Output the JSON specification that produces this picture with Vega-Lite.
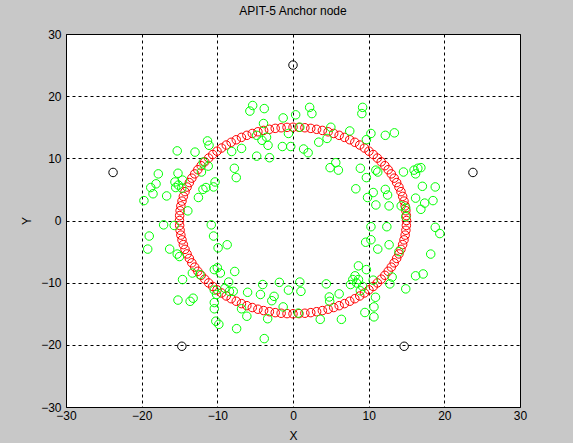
{
  "$schema": "https://vega.github.io/schema/vega-lite/v6.json",
  "width": 454,
  "height": 373,
  "autosize": "none",
  "padding": {"left": 66, "top": 34, "right": 53, "bottom": 36},
  "background": "#c8c8c8",
  "title": {"text": "APIT-5 Anchor node", "font": "Liberation Sans", "fontSize": 12, "fontWeight": "normal", "color": "black", "offset": 10, "frame": "group"},
  "datasets": {
    "nodes": [
      {"x":15,"y":0},{"x":14.98,"y":0.79},{"x":14.92,"y":1.57},{"x":14.82,"y":2.35},{"x":14.67,"y":3.12},{"x":14.49,"y":3.88},{"x":14.27,"y":4.64},{"x":14.0,"y":5.38},{"x":13.7,"y":6.1},{"x":13.37,"y":6.81},{"x":12.99,"y":7.5},{"x":12.58,"y":8.17},{"x":12.14,"y":8.82},{"x":11.66,"y":9.44},{"x":11.15,"y":10.04},{"x":10.61,"y":10.61},{"x":10.04,"y":11.15},{"x":9.44,"y":11.66},{"x":8.82,"y":12.14},{"x":8.17,"y":12.58},{"x":7.5,"y":12.99},{"x":6.81,"y":13.37},{"x":6.1,"y":13.7},{"x":5.38,"y":14.0},{"x":4.64,"y":14.27},{"x":3.88,"y":14.49},{"x":3.12,"y":14.67},{"x":2.35,"y":14.82},{"x":1.57,"y":14.92},{"x":0.79,"y":14.98},
      {"x":0,"y":15},{"x":-0.79,"y":14.98},{"x":-1.57,"y":14.92},{"x":-2.35,"y":14.82},{"x":-3.12,"y":14.67},{"x":-3.88,"y":14.49},{"x":-4.64,"y":14.27},{"x":-5.38,"y":14.0},{"x":-6.1,"y":13.7},{"x":-6.81,"y":13.37},{"x":-7.5,"y":12.99},{"x":-8.17,"y":12.58},{"x":-8.82,"y":12.14},{"x":-9.44,"y":11.66},{"x":-10.04,"y":11.15},{"x":-10.61,"y":10.61},{"x":-11.15,"y":10.04},{"x":-11.66,"y":9.44},{"x":-12.14,"y":8.82},{"x":-12.58,"y":8.17},{"x":-12.99,"y":7.5},{"x":-13.37,"y":6.81},{"x":-13.7,"y":6.1},{"x":-14.0,"y":5.38},{"x":-14.27,"y":4.64},{"x":-14.49,"y":3.88},{"x":-14.67,"y":3.12},{"x":-14.82,"y":2.35},{"x":-14.92,"y":1.57},{"x":-14.98,"y":0.79},
      {"x":-15,"y":0},{"x":-14.98,"y":-0.79},{"x":-14.92,"y":-1.57},{"x":-14.82,"y":-2.35},{"x":-14.67,"y":-3.12},{"x":-14.49,"y":-3.88},{"x":-14.27,"y":-4.64},{"x":-14.0,"y":-5.38},{"x":-13.7,"y":-6.1},{"x":-13.37,"y":-6.81},{"x":-12.99,"y":-7.5},{"x":-12.58,"y":-8.17},{"x":-12.14,"y":-8.82},{"x":-11.66,"y":-9.44},{"x":-11.15,"y":-10.04},{"x":-10.61,"y":-10.61},{"x":-10.04,"y":-11.15},{"x":-9.44,"y":-11.66},{"x":-8.82,"y":-12.14},{"x":-8.17,"y":-12.58},{"x":-7.5,"y":-12.99},{"x":-6.81,"y":-13.37},{"x":-6.1,"y":-13.7},{"x":-5.38,"y":-14.0},{"x":-4.64,"y":-14.27},{"x":-3.88,"y":-14.49},{"x":-3.12,"y":-14.67},{"x":-2.35,"y":-14.82},{"x":-1.57,"y":-14.92},{"x":-0.79,"y":-14.98},
      {"x":0,"y":-15},{"x":0.79,"y":-14.98},{"x":1.57,"y":-14.92},{"x":2.35,"y":-14.82},{"x":3.12,"y":-14.67},{"x":3.88,"y":-14.49},{"x":4.64,"y":-14.27},{"x":5.38,"y":-14.0},{"x":6.1,"y":-13.7},{"x":6.81,"y":-13.37},{"x":7.5,"y":-12.99},{"x":8.17,"y":-12.58},{"x":8.82,"y":-12.14},{"x":9.44,"y":-11.66},{"x":10.04,"y":-11.15},{"x":10.61,"y":-10.61},{"x":11.15,"y":-10.04},{"x":11.66,"y":-9.44},{"x":12.14,"y":-8.82},{"x":12.58,"y":-8.17},{"x":12.99,"y":-7.5},{"x":13.37,"y":-6.81},{"x":13.7,"y":-6.1},{"x":14.0,"y":-5.38},{"x":14.27,"y":-4.64},{"x":14.49,"y":-3.88},{"x":14.67,"y":-3.12},{"x":14.82,"y":-2.35},{"x":14.92,"y":-1.57},{"x":14.98,"y":-0.79}
    ],
    "est": [
      {"x":-5.33,"y":18.5},{"x":-5.7,"y":17.6},{"x":-3.8,"y":18.0},{"x":-1.3,"y":16.5},{"x":0.35,"y":17.0},{"x":2.2,"y":18.2},{"x":2.5,"y":17.2},{"x":-3.9,"y":15.6},{"x":-4.8,"y":13.7},{"x":-4.1,"y":12.9},{"x":-3.5,"y":13.4},{"x":-3.3,"y":12.1},{"x":-0.6,"y":14.0},{"x":0.9,"y":15.0},{"x":-1.4,"y":11.9},{"x":-0.3,"y":11.9},{"x":1.4,"y":11.5},{"x":2.0,"y":10.9},{"x":-4.8,"y":10.35},{"x":-3.1,"y":10.1},{"x":-6.8,"y":11.6},{"x":-8.1,"y":11.1},{"x":-11.3,"y":12.8},{"x":-11.1,"y":12.1},{"x":-12.95,"y":11.0},{"x":-15.3,"y":11.2},{"x":-11.85,"y":9.4},{"x":-11.2,"y":8.75},{"x":-12.1,"y":7.8},{"x":-10.5,"y":5.4},{"x":-7.75,"y":8.4},{"x":-7.5,"y":6.9},{"x":-17.8,"y":7.5},{"x":-18.8,"y":5.3},{"x":-18.5,"y":4.3},{"x":-18.1,"y":5.9},{"x":-19.7,"y":3.2},{"x":-16.7,"y":3.95},{"x":-15.2,"y":7.6},{"x":-15.6,"y":6.2},{"x":-15.15,"y":5.7},{"x":-14.6,"y":6.5},{"x":-15.5,"y":5.3},{"x":-14.7,"y":5.2},{"x":-12.5,"y":3.7},{"x":-11.9,"y":5.0},{"x":-11.5,"y":5.3},{"x":-10.3,"y":6.2},{"x":-13.9,"y":1.55},{"x":-17.1,"y":-0.7},{"x":-15.7,"y":-0.8},{"x":-10.8,"y":-0.7},
      {"x":9.2,"y":18.2},{"x":9.1,"y":17.2},{"x":5.0,"y":15.0},{"x":7.5,"y":14.4},{"x":3.4,"y":12.6},{"x":4.5,"y":13.2},{"x":10.3,"y":14.0},{"x":12.2,"y":13.7},{"x":13.4,"y":14.1},{"x":9.7,"y":13.0},{"x":5.65,"y":9.3},{"x":4.9,"y":8.5},{"x":6.0,"y":8.1},{"x":8.9,"y":8.4},{"x":9.7,"y":6.9},{"x":11.2,"y":7.8},{"x":10.95,"y":8.1},{"x":14.6,"y":7.8},{"x":16.0,"y":8.1},{"x":16.5,"y":8.4},{"x":16.9,"y":8.5},{"x":16.2,"y":7.5},{"x":17.1,"y":5.5},{"x":18.8,"y":5.4},{"x":8.3,"y":5.1},{"x":10.6,"y":4.5},{"x":12.2,"y":5.0},{"x":12.5,"y":4.1},{"x":9.85,"y":3.7},{"x":10.95,"y":2.5},{"x":12.7,"y":2.35},{"x":14.3,"y":2.35},{"x":16.2,"y":3.6},{"x":17.4,"y":2.8},{"x":18.5,"y":3.2},{"x":14.9,"y":2.0},{"x":16.9,"y":1.8},{"x":14.9,"y":0.6},{"x":10.3,"y":-1.0},{"x":12.4,"y":-1.0},{"x":18.8,"y":-1.1},
      {"x":-19.0,"y":-2.5},{"x":-19.2,"y":-4.6},{"x":-16.3,"y":-4.6},{"x":-15.3,"y":-5.4},{"x":-15.0,"y":-5.8},{"x":-10.5,"y":-2.5},{"x":-9.9,"y":-4.4},{"x":-8.7,"y":-3.9},{"x":-13.3,"y":-8.45},{"x":-12.3,"y":-8.7},{"x":-14.6,"y":-9.5},{"x":-10.4,"y":-7.9},{"x":-10.0,"y":-7.6},{"x":-9.6,"y":-8.45},{"x":-7.7,"y":-8.2},{"x":-15.2,"y":-12.8},{"x":-13.6,"y":-13.0},{"x":-13.2,"y":-12.5},{"x":-10.4,"y":-11.2},{"x":-10.1,"y":-11.9},{"x":-10.4,"y":-13.2},{"x":-10.4,"y":-14.2},{"x":-10.2,"y":-16.2},{"x":-9.8,"y":-16.7},{"x":-7.45,"y":-17.4},{"x":-3.8,"y":-19.0},{"x":-8.5,"y":-9.9},{"x":-8.4,"y":-11.4},{"x":-7.9,"y":-11.4},{"x":-9.0,"y":-10.9},{"x":-6.0,"y":-11.55},{"x":-4.0,"y":-10.3},{"x":-4.3,"y":-11.9},{"x":-2.8,"y":-12.9},{"x":-2.5,"y":-12.2},{"x":-1.8,"y":-9.95},{"x":-0.6,"y":-11.2},{"x":0.9,"y":-9.9},{"x":1.05,"y":-11.4},{"x":-6.1,"y":-15.4},{"x":-3.35,"y":-15.8},{"x":-6.8,"y":-14.2},{"x":-1.3,"y":-13.9},{"x":3.6,"y":-15.9},{"x":0.7,"y":-14.9},
      {"x":19.4,"y":-2.1},{"x":9.6,"y":-3.5},{"x":10.3,"y":-3.1},{"x":11.2,"y":-4.6},{"x":12.7,"y":-3.9},{"x":14.0,"y":-5.0},{"x":18.2,"y":-5.4},{"x":16.2,"y":-8.9},{"x":17.2,"y":-8.6},{"x":8.65,"y":-7.3},{"x":9.7,"y":-7.9},{"x":8.2,"y":-8.9},{"x":8.65,"y":-9.5},{"x":8.4,"y":-10.05},{"x":9.2,"y":-10.6},{"x":8.9,"y":-11.3},{"x":10.6,"y":-9.6},{"x":13.1,"y":-9.1},{"x":12.8,"y":-10.2},{"x":14.9,"y":-11.0},{"x":10.9,"y":-12.35},{"x":10.7,"y":-13.9},{"x":10.7,"y":-15.5},{"x":9.5,"y":-14.8},{"x":6.4,"y":-15.9},{"x":6.1,"y":-11.8},{"x":4.8,"y":-12.3},{"x":4.85,"y":-13.0},{"x":4.4,"y":-10.2},{"x":7.9,"y":-9.5},{"x":7.6,"y":-10.3}
    ],
    "anchors": [
      {"x":0,"y":25},{"x":23.78,"y":7.73},{"x":14.69,"y":-20.23},{"x":-14.69,"y":-20.23},{"x":-23.78,"y":7.73}
    ]
  },
  "encoding": {
    "x": {"field": "x", "type": "quantitative", "scale": {"domain": [-30, 30], "nice": false, "zero": false},
      "axis": {"values": [-30, -20, -10, 0, 10, 20, 30], "title": "X", "titlePadding": 9, "labelPadding": 3}},
    "y": {"field": "y", "type": "quantitative", "scale": {"domain": [-30, 30], "nice": false, "zero": false},
      "axis": {"values": [-30, -20, -10, 0, 10, 20, 30], "title": "Y", "titlePadding": 7, "labelPadding": 5}}
  },
  "layer": [
    {"data": {"name": "nodes"}, "mark": {"type": "point", "shape": "circle", "size": 72, "filled": false, "color": "#ff0000", "strokeWidth": 1, "opacity": 1}},
    {"data": {"name": "est"}, "mark": {"type": "point", "shape": "circle", "size": 72, "filled": false, "color": "#00ff00", "strokeWidth": 1, "opacity": 1}},
    {"data": {"name": "anchors"}, "mark": {"type": "point", "shape": "circle", "size": 72, "filled": false, "color": "#000000", "strokeWidth": 1, "opacity": 1}}
  ],
  "config": {
    "view": {"fill": "white", "stroke": "black", "strokeWidth": 1},
    "axis": {
      "grid": true, "gridColor": "black", "gridOpacity": 1, "gridDash": [3, 3], "gridWidth": 1,
      "domain": false, "ticks": false,
      "labelFont": "Liberation Sans", "labelFontSize": 12, "labelColor": "black",
      "labelOverlap": false, "labelFlush": false, "labelBound": false,
      "titleFont": "Liberation Sans", "titleFontSize": 12, "titleFontWeight": "normal", "titleColor": "black"
    }
  }
}
